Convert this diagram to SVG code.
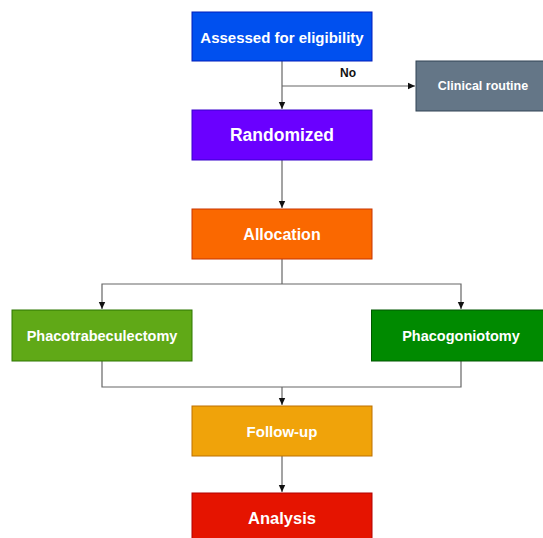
<svg xmlns="http://www.w3.org/2000/svg" width="543" height="538" viewBox="0 0 543 538">
<defs>
<marker id="arr" markerWidth="8" markerHeight="8" refX="7" refY="4" orient="auto" markerUnits="userSpaceOnUse">
<path d="M0,0.8 L7,4 L0,7.2 Z" fill="#111"/>
</marker>
<style>
.lbl{font-family:"Liberation Sans",Arial,sans-serif;font-weight:bold;fill:#fff;text-anchor:middle;dominant-baseline:central}
.ln{fill:none;stroke:#666;stroke-width:1.2}
.ar{marker-end:url(#arr)}
</style>
</defs>
<rect width="543" height="538" fill="#fff"/>
<g id="connectors">
<path class="ln ar" d="M282,61 V109"/>
<path class="ln ar" d="M282,86 H415"/>
<path class="ln ar" d="M282,160 V208"/>
<path class="ln" d="M282,259 V284"/>
<path class="ln ar" d="M282,284 H102 V309"/>
<path class="ln ar" d="M282,284 H461 V309"/>
<path class="ln" d="M102,361 V387 H461 V361"/>
<path class="ln ar" d="M282,387 V405"/>
<path class="ln ar" d="M282,456 V492"/>
<text x="348" y="73" font-family="Liberation Sans,Arial,sans-serif" font-size="12" font-weight="bold" fill="#111" text-anchor="middle" dominant-baseline="central">No</text>
</g>
<g id="assessed">
<rect x="192" y="12" width="180" height="49" fill="#0050EF" stroke="#001DBC"/>
<text class="lbl" x="282" y="37" font-size="15">Assessed for eligibility</text>
</g>
<g id="clinical">
<rect x="416" y="61" width="130" height="50" fill="#647687" stroke="#314354"/>
<text class="lbl" x="483" y="86" font-size="12.5">Clinical routine</text>
</g>
<g id="randomized">
<rect x="192" y="110" width="180" height="50" fill="#6A00FF" stroke="#3700CC"/>
<text class="lbl" x="282" y="135" font-size="17.5">Randomized</text>
</g>
<g id="allocation">
<rect x="192" y="209" width="180" height="50" fill="#FA6800" stroke="#C73500"/>
<text class="lbl" x="282" y="234" font-size="16">Allocation</text>
</g>
<g id="phacotrabeculectomy">
<rect x="12" y="310" width="180" height="51" fill="#60A917" stroke="#2D7600"/>
<text class="lbl" x="102" y="335.5" font-size="14.5">Phacotrabeculectomy</text>
</g>
<g id="phacogoniotomy">
<rect x="371.5" y="310" width="180" height="51" fill="#008A00" stroke="#005700"/>
<text class="lbl" x="461" y="335.5" font-size="14.5">Phacogoniotomy</text>
</g>
<g id="followup">
<rect x="192" y="406" width="180" height="50" fill="#F0A30A" stroke="#BD7000"/>
<text class="lbl" x="282" y="431" font-size="15">Follow-up</text>
</g>
<g id="analysis">
<rect x="192" y="493" width="180" height="50" fill="#E51400" stroke="#B20000"/>
<text class="lbl" x="282" y="518" font-size="16.5">Analysis</text>
</g>
</svg>
